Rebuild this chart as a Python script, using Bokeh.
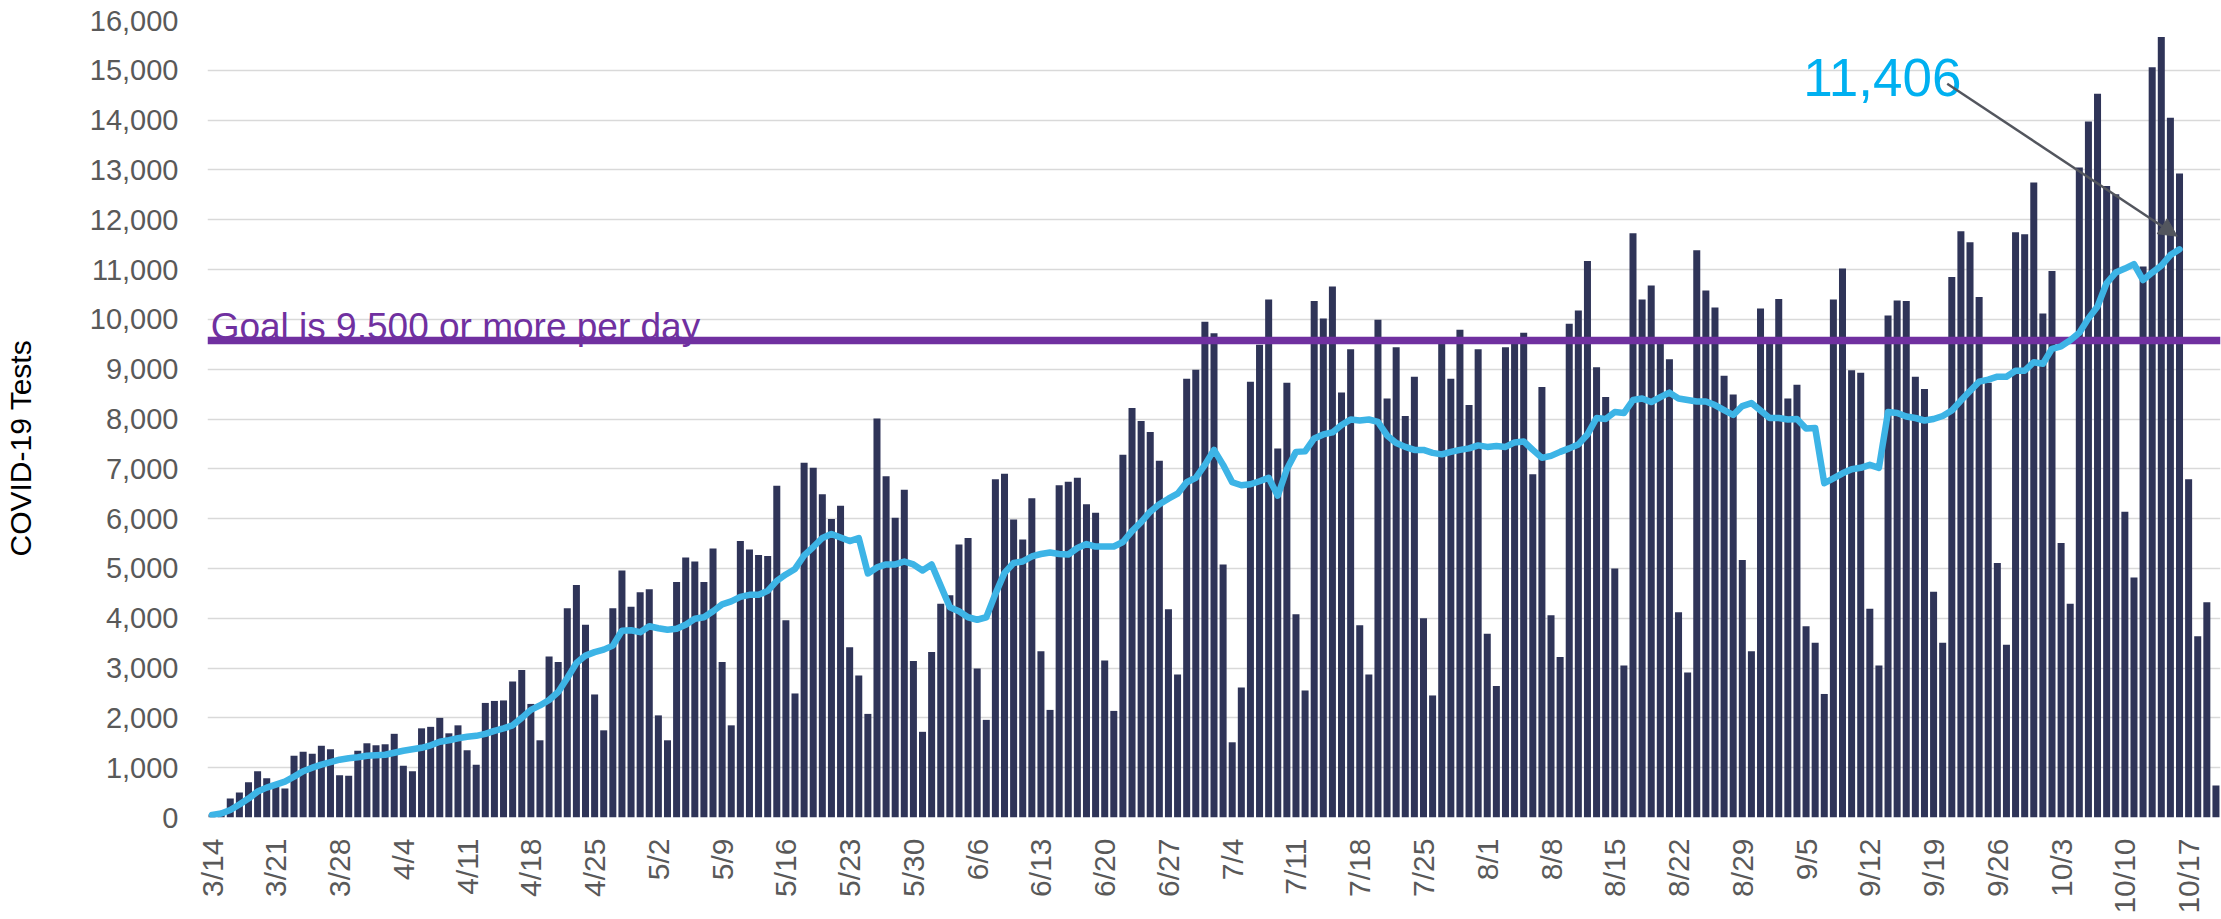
import numpy as np
from bokeh.plotting import figure
from bokeh.models import (ColumnDataSource, Range1d, FixedTicker, NumeralTickFormatter,
                          Label, Arrow, NormalHead)
from bokeh.embed import file_html
from bokeh.resources import INLINE

# ---------------- data ----------------
# daily COVID-19 tests, 3/14 .. 10/21
tests = [
    60, 110, 380, 500, 710, 930, 790, 610, 580, 1240, 1320, 1280, 1440, 1370, 850, 840,
    1340, 1490, 1450, 1470, 1680, 1040, 930, 1790, 1820, 2000, 1690, 1850, 1350, 1060,
    2300, 2340, 2350, 2730, 2960, 2280, 1550, 3230, 3120, 4200, 4670, 3870, 2470, 1750,
    4200, 4960, 4230, 4520, 4580, 2050, 1550, 4730, 5220, 5140, 4730, 5400, 3120, 1850,
    5550, 5380, 5270, 5250, 6660, 3960, 2490, 7120, 7020, 6490, 5990, 6260, 3420, 2850,
    2080, 8010, 6850, 6020, 6580, 3140, 1720, 3320, 4290, 4460, 5480, 5610, 2990, 1960,
    6790, 6900, 5980, 5580, 6410, 3340, 2160, 6670, 6740, 6820, 6290, 6120, 3150, 2140,
    7280, 8220, 7960, 7740, 7160, 4180, 2870, 8810, 8990, 9950, 9720, 5080, 1510, 2610,
    8750, 9490, 10400, 7410, 8730, 4080, 2550, 10370, 10020, 10660, 8530, 9400, 3860, 2870,
    9990, 8410, 9440, 8060, 8850, 4000, 2450, 9520, 8810, 9790, 8280, 9400, 3690, 2640,
    9440, 9580, 9730, 6890, 8640, 4060, 3220, 9910, 10180, 11170, 9040, 8440, 5000, 3050,
    11730, 10400, 10680, 9580, 9200, 4120, 2910, 11390, 10580, 10240, 8870, 8490, 5170, 3340,
    10220, 9600, 10410, 8410, 8690, 3840, 3510, 2480, 10400, 11020, 8980, 8930, 4190, 3050,
    10080, 10380, 10370, 8850, 8600, 4530, 3510, 10850, 11770, 11550, 10450, 8730, 5110, 3470,
    11750, 11710, 12750, 10120, 10970, 5510, 4290, 13050, 13970, 14530, 12680, 12510, 6140, 4820,
    11060, 15060, 15670, 14050, 12930, 6790, 3640, 4320, 640,
]

# 7-day average line, 3/14 .. 10/16
avg7 = [
    50, 80, 150, 260, 380, 520, 600, 660, 720, 820, 930, 1000, 1060, 1110, 1160, 1190,
    1210, 1240, 1250, 1260, 1300, 1340, 1370, 1400, 1450, 1520, 1550, 1590, 1620, 1640,
    1680, 1740, 1790, 1850, 2000, 2160, 2250, 2360, 2520, 2800, 3100, 3250, 3320, 3370,
    3450, 3750, 3760, 3720, 3840, 3800, 3770, 3790, 3870, 3990, 4020, 4140, 4280, 4340,
    4430, 4470, 4470, 4550, 4750, 4880, 4990, 5260, 5430, 5610, 5690, 5620, 5550, 5610,
    4900, 5020, 5080, 5080, 5140, 5080, 4960, 5080, 4650, 4220, 4140, 4020, 3970, 4020,
    4490, 4910, 5110, 5140, 5240, 5290, 5320, 5290, 5280, 5410, 5490, 5440, 5440, 5440,
    5530, 5750, 5930, 6140, 6290, 6400, 6500, 6730, 6820, 7080, 7380, 7080, 6730, 6670,
    6690, 6750, 6820, 6460, 6990, 7340, 7350, 7610, 7690, 7730, 7880, 7990, 7970, 7990,
    7940, 7670, 7520, 7440, 7380, 7380, 7320, 7290, 7340, 7380, 7410, 7470, 7440, 7460,
    7440, 7530, 7550, 7380, 7220, 7260, 7340, 7410, 7490, 7690, 8020, 8000, 8140, 8120,
    8380, 8410, 8340, 8440, 8530, 8410, 8380, 8350, 8350, 8280, 8180, 8080, 8260, 8320,
    8170, 8020, 8020, 7990, 8000, 7810, 7820, 6710, 6810, 6910, 6990, 7020, 7080, 7020,
    8140, 8120, 8050, 8020, 7970, 8000, 8060, 8170, 8370, 8560, 8750, 8790, 8850, 8850,
    8970, 8970, 9140, 9110, 9410, 9460, 9580, 9730, 10020, 10260, 10730, 10940, 11020, 11110,
    10790, 10940, 11080, 11290, 11406,
]

tick_labels = ["3/14", "3/21", "3/28", "4/4", "4/11", "4/18", "4/25", "5/2", "5/9",
               "5/16", "5/23", "5/30", "6/6", "6/13", "6/20", "6/27", "7/4", "7/11",
               "7/18", "7/25", "8/1", "8/8", "8/15", "8/22", "8/29", "9/5", "9/12",
               "9/19", "9/26", "10/3", "10/10", "10/17"]
tick_every = 7

y_ticks = list(range(0, 16001, 1000))
goal_value = 9570
goal_text = "Goal is 9,500 or more per day"
axis_title = "COVID-19 Tests"

# annotation placement (data units)
goal_label_pos = (-0.15, 9865)
value_label_pos = (174.7, 14865)
arrow_start = (190.5, 14730)
arrow_end = (215.75, 11670)

# ---------------- styles ----------------
FONT = "Liberation Sans"
BAR = "#2F3458"
AVG = "#3DB4E6"
GOAL = "#7030A0"
HILITE = "#00B0F0"
GREY_TXT = "#595959"
ARROW = "#53565E"

day_idx = np.arange(len(tests))
bar_src = ColumnDataSource(dict(x=day_idx, tests=tests))
avg_src = ColumnDataSource(dict(x=np.arange(len(avg7)), avg=avg7))

p = figure(width=2221, height=919, output_backend="svg", toolbar_location=None,
           x_range=Range1d(-0.5, len(tests) - 0.5), y_range=Range1d(0, 16000),
           min_border_left=207, min_border_right=1, min_border_top=20,
           min_border_bottom=102)
p.outline_line_color = None
p.background_fill_color = "white"
p.border_fill_color = "white"

p.xgrid.grid_line_color = None
p.ygrid.ticker = FixedTicker(ticks=y_ticks)
p.ygrid.grid_line_color = "#D9D9D9"
p.ygrid.grid_line_width = 1.5

p.vbar(x="x", top="tests", width=0.77, source=bar_src,
       fill_color=BAR, line_color=None)
p.hspan(y=[goal_value], line_color=GOAL, line_width=7.5)
p.line(x="x", y="avg", source=avg_src, line_color=AVG, line_width=6.5,
       line_join="round", line_cap="round")

# x axis
xa = p.xaxis[0]
tick_pos = [i * tick_every for i in range(len(tick_labels))]
xa.ticker = FixedTicker(ticks=tick_pos)
xa.major_label_overrides = {t: lab for t, lab in zip(tick_pos, tick_labels)}
xa.major_label_orientation = np.pi / 2
xa.axis_line_color = None
xa.major_tick_line_color = None
xa.minor_tick_line_color = None
xa.major_tick_out = 0
xa.major_tick_in = 0
xa.minor_tick_out = 0
xa.minor_tick_in = 0
xa.major_label_standoff = 21
xa.major_label_text_font = FONT
xa.major_label_text_font_size = "30px"
xa.major_label_text_color = GREY_TXT

# y axis
ya = p.yaxis[0]
ya.ticker = FixedTicker(ticks=y_ticks)
ya.formatter = NumeralTickFormatter(format="0,0")
ya.axis_line_color = None
ya.major_tick_line_color = None
ya.minor_tick_line_color = None
ya.major_tick_out = 0
ya.major_tick_in = 0
ya.minor_tick_out = 0
ya.minor_tick_in = 0
ya.major_label_standoff = 29
ya.major_label_text_font = FONT
ya.major_label_text_font_size = "29px"
ya.major_label_text_color = GREY_TXT
# trailing no-break spaces nudge the visible title a little below the frame centre
ya.axis_label = axis_title + "\u00a0" * 7
ya.axis_label_text_font = FONT
ya.axis_label_text_font_size = "30px"
ya.axis_label_text_font_style = "normal"
ya.axis_label_text_color = "#000000"
ya.axis_label_standoff = 50

p.add_layout(Label(x=goal_label_pos[0], y=goal_label_pos[1], text=goal_text,
                   text_font=FONT, text_font_size="37px", text_color=GOAL,
                   text_baseline="alphabetic", text_align="left"))
p.add_layout(Label(x=value_label_pos[0], y=value_label_pos[1], text=f"{avg7[-1]:,}",
                   text_font=FONT, text_font_size="53px", text_color=HILITE,
                   text_baseline="alphabetic", text_align="left"))
p.add_layout(Arrow(end=NormalHead(size=18, fill_color=ARROW, line_color=ARROW),
                   x_start=arrow_start[0], y_start=arrow_start[1],
                   x_end=arrow_end[0], y_end=arrow_end[1],
                   line_color=ARROW, line_width=2.5))

open("out.html", "w").write(file_html(p, INLINE))
